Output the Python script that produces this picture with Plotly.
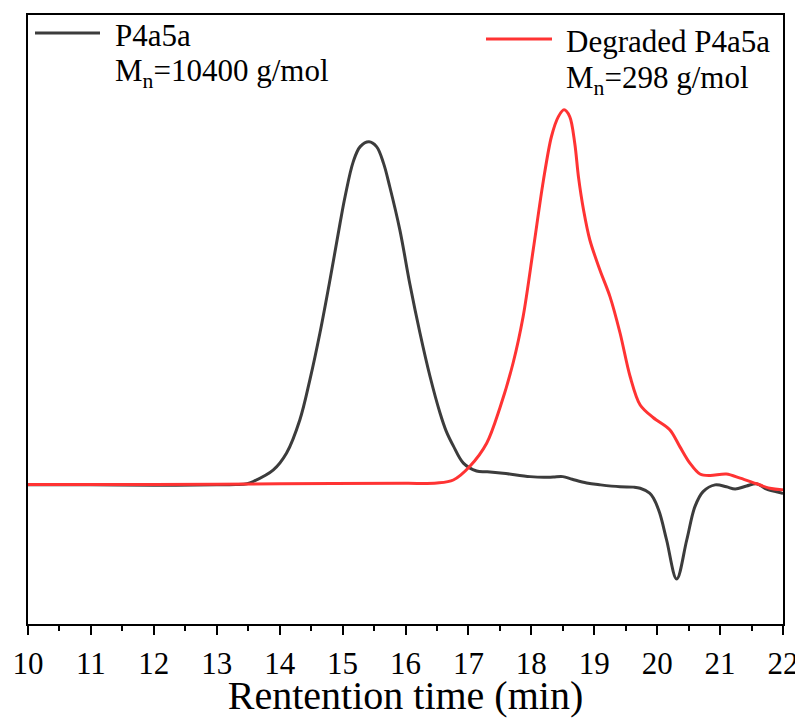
import plotly.graph_objects as go

# Retention time (min) and detector signal (normalized, arbitrary units)
t_p4a5a = [10.0, 11.0, 12.0, 13.0, 13.3, 13.48, 13.58, 13.9, 14.11, 14.32, 14.48, 14.64, 14.8, 14.96,
           15.04, 15.17, 15.28, 15.42, 15.54, 15.65, 15.75, 15.91, 16.07, 16.23, 16.39, 16.55, 16.65,
           16.76, 16.92, 17.13, 17.3, 17.55, 17.98, 18.2, 18.35, 18.5, 18.65, 18.88, 19.1, 19.41,
           19.62, 19.73, 19.88, 19.94, 20.04, 20.15, 20.31, 20.47, 20.6, 20.73, 20.92, 21.1, 21.24,
           21.42, 21.58, 21.74, 21.98, 22.0]
y_p4a5a = [0.0, 0.0, -0.001, 0.0, 0.001, 0.003, 0.009, 0.04, 0.085, 0.173, 0.28, 0.405, 0.547, 0.698,
           0.769, 0.862, 0.902, 0.915, 0.902, 0.858, 0.795, 0.68, 0.535, 0.405, 0.289, 0.191, 0.142,
           0.104, 0.058, 0.037, 0.035, 0.031, 0.022, 0.02, 0.021, 0.022, 0.015, 0.005, 0.0, -0.005,
           -0.006, -0.009, -0.022, -0.035, -0.075, -0.147, -0.251, -0.147, -0.058, -0.018, 0.0, -0.005,
           -0.011, -0.003, 0.003, -0.011, -0.022, -0.023]

t_degraded = [10.0, 12.0, 14.0, 16.0, 16.5, 16.76, 17.02, 17.29, 17.5, 17.71, 17.87, 18.03, 18.19,
              18.32, 18.43, 18.52, 18.61, 18.69, 18.75, 18.83, 18.93, 19.09, 19.25, 19.41, 19.57,
              19.73, 19.94, 20.2, 20.36, 20.52, 20.68, 20.84, 21.1, 21.32, 21.58, 21.79, 21.98, 22.0]
y_degraded = [0.001, 0.001, 0.003, 0.004, 0.005, 0.013, 0.049, 0.111, 0.205, 0.325, 0.449, 0.627, 0.81,
              0.929, 0.982, 1.0, 0.982, 0.911, 0.82, 0.733, 0.653, 0.573, 0.502, 0.405, 0.289,
              0.213, 0.179, 0.147, 0.102, 0.058, 0.029, 0.025, 0.029, 0.018, 0.003, -0.009, -0.013, -0.013]

x_ticks = list(range(10, 23))
series_names = ["P4a5a", "Degraded P4a5a"]
mn_labels = ["M<sub>n</sub>=10400 g/mol", "M<sub>n</sub>=298 g/mol"]

BLACK = "#3c3c3c"
RED = "#ff3333"
FONT = "Liberation Serif"

fig = go.Figure()
fig.add_trace(go.Scatter(x=t_p4a5a, y=y_p4a5a, mode="lines", name=series_names[0],
                         line=dict(color=BLACK, width=3, shape="spline", smoothing=1.0),
                         showlegend=False))
fig.add_trace(go.Scatter(x=t_degraded, y=y_degraded, mode="lines", name=series_names[1],
                         line=dict(color=RED, width=3, shape="spline", smoothing=0.9),
                         showlegend=False))

# The page body adds an 8px margin; lay out the figure in page coordinates.
OFF = 8
W, H = 803 - OFF, 718 - OFF
PL, PR, PT, PB = 28, 783, 15, 624          # plot box in page pixels
L, R, T, B = PL - OFF, W - (PR - OFF), PT - OFF, H - (PB - OFF)
pw, ph = W - L - R, H - T - B

def px(xp):
    return (xp - PL) / pw

def py(yp):
    return (PB - yp) / ph

# manual legend (page pixel positions)
legend_items = [
    dict(x0=35, x1=100, yl=33, tx=113, y1=46, y2=83, color=BLACK, i=0),
    dict(x0=486, x1=552, yl=39, tx=564, y1=52, y2=90, color=RED, i=1),
]
for it in legend_items:
    fig.add_shape(type="line", xref="paper", yref="paper", x0=px(it["x0"]), x1=px(it["x1"]),
                  y0=py(it["yl"]), y1=py(it["yl"]), line=dict(color=it["color"], width=3))
    fig.add_annotation(xref="paper", yref="paper", x=px(it["tx"]), y=py(it["y1"] - 10),
                       text=series_names[it["i"]], showarrow=False, xanchor="left", yanchor="middle",
                       font=dict(family=FONT, size=31, color="black"))
    fig.add_annotation(xref="paper", yref="paper", x=px(it["tx"]), y=py(it["y2"] - 10),
                       text=mn_labels[it["i"]], showarrow=False, xanchor="left", yanchor="middle",
                       font=dict(family=FONT, size=31, color="black"))

fig.update_layout(
    width=W, height=H,
    margin=dict(l=L, r=R, t=T, b=B, autoexpand=False),
    paper_bgcolor="white", plot_bgcolor="white",
    font=dict(family=FONT, color="black"),
    showlegend=False,
)
fig.update_xaxes(
    range=[10, 22], tickvals=x_ticks, ticktext=[str(v) for v in x_ticks],
    showline=True, mirror=True, linecolor="black", linewidth=2,
    ticks="outside", ticklen=9, tickwidth=2, tickcolor="black",
    minor=dict(dtick=0.5, ticks="outside", ticklen=5, tickwidth=2, tickcolor="black"),
    showgrid=False, zeroline=False, automargin=True, ticklabelstandoff=2,
    tickfont=dict(family=FONT, size=31, color="black"),
    title=dict(text="Rentention time (min)", font=dict(family=FONT, size=40, color="black"), standoff=7),
)
fig.update_yaxes(
    range=[-0.371, 1.253], showline=True, mirror=True, linecolor="black", linewidth=2,
    showticklabels=False, ticks="", showgrid=False, zeroline=False, automargin=False,
)

fig.write_html("out.html")
